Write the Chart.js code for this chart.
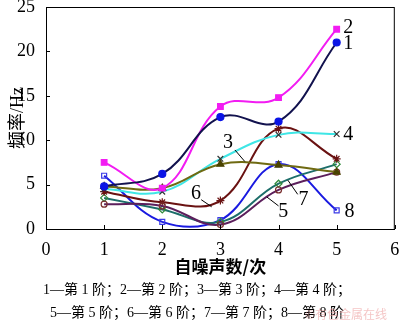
<!DOCTYPE html>
<html>
<head>
<meta charset="utf-8">
<script src="https://cdn.jsdelivr.net/npm/chart.js@4/dist/chart.umd.min.js"></script>
<style>
  html, body { margin: 0; padding: 0; background: #fff; }
</style>
</head>
<body>
<canvas id="chart" width="400" height="326"></canvas>
<script>
// Data
const noiseCounts = [1, 2, 3, 4, 5];
const order1 = [4.8, 6.2, 12.6, 12.1, 21.0];
const order2 = [7.5, 4.6, 13.8, 14.8, 22.5];
const order3 = [4.8, 4.6, 7.3, 7.2, 6.4];
const order4 = [4.5, 4.2, 7.9, 10.6, 10.7];
const order5 = [2.8, 2.6, 0.5, 4.4, 6.4];
const order6 = [4.2, 3.0, 3.2, 11.3, 7.9];
const order7 = [3.5, 2.2, 0.8, 5.1, 7.3];
const order8 = [6.0, 0.8, 1.0, 7.3, 2.1];
const xTicks = [0, 1, 2, 3, 4, 5, 6];
const yTicks = [0, 5, 10, 15, 20, 25];

const serif = '"Liberation Serif", "Noto Sans CJK SC", serif';
const caption1 = '1—第 1 阶；2—第 2 阶；3—第 3 阶；4—第 4 阶；';
const caption2 = '5—第 5 阶；6—第 6 阶；7—第 7 阶；8—第 8 阶';

// curve labels: text, position in data units, optional leader line
const curveLabels = [
    { text: '2', x: 5.2, y: 22.7 },
    { text: '1', x: 5.2, y: 20.9 },
    { text: '4', x: 5.2, y: 10.6 },
    { text: '3', x: 3.13, y: 9.7, from: [3.25, 8.9], to: [3.42, 7.6] },
    { text: '6', x: 2.58, y: 4.0, from: [2.67, 3.3], to: [2.85, 2.5] },
    { text: '7', x: 4.43, y: 3.3, from: [4.16, 5.5], to: [4.33, 3.9] },
    { text: '5', x: 4.08, y: 1.9, from: [3.8, 3.6], to: [4.0, 2.6] },
    { text: '8', x: 5.22, y: 1.9 }
];

function pts(values) {
    return values.map((v, i) => ({ x: noiseCounts[i], y: v }));
}

function series(values, line, marker, style, radius, filled) {
    return {
        data: pts(values),
        borderColor: line,
        borderWidth: 2,
        pointStyle: style,
        pointRadius: radius,
        pointBorderColor: marker,
        pointBackgroundColor: filled ? marker : 'rgba(0,0,0,0)',
        pointBorderWidth: 1.2,
        tension: 0.4,
        fill: false
    };
}

const extras = {
    id: 'extras',
    afterDraw(chart) {
        const { ctx, chartArea: a, scales: { x, y } } = chart;
        ctx.save();
        // frame
        ctx.strokeStyle = '#000';
        ctx.lineWidth = 1;
        ctx.strokeRect(a.left + 0.5, a.top + 0.5, a.right - a.left - 1, a.bottom - a.top);
        // inner tick marks
        ctx.beginPath();
        xTicks.forEach(t => {
            const px = Math.round(x.getPixelForValue(t)) + 0.5;
            ctx.moveTo(px, a.bottom);
            ctx.lineTo(px, a.bottom - 4);
        });
        yTicks.forEach(t => {
            const py = Math.round(y.getPixelForValue(t)) + 0.5;
            ctx.moveTo(a.left, py);
            ctx.lineTo(a.left + 4, py);
        });
        ctx.stroke();
        // curve labels
        ctx.fillStyle = '#000';
        ctx.font = '20px ' + serif;
        ctx.textAlign = 'center';
        ctx.textBaseline = 'middle';
        curveLabels.forEach(l => {
            ctx.fillText(l.text, x.getPixelForValue(l.x), y.getPixelForValue(l.y));
            if (l.from) {
                ctx.beginPath();
                ctx.moveTo(x.getPixelForValue(l.from[0]), y.getPixelForValue(l.from[1]));
                ctx.lineTo(x.getPixelForValue(l.to[0]), y.getPixelForValue(l.to[1]));
                ctx.stroke();
            }
        });
        // caption
        ctx.font = '14px ' + serif;
        ctx.textAlign = 'left';
        ctx.fillText(caption1, 43, 290);
        ctx.fillText(caption2, 50, 313);
        // watermark
        ctx.fillStyle = 'rgba(235, 150, 150, 0.55)';
        ctx.font = '12px "Noto Sans CJK SC"';
        ctx.fillText('©有色金属在线', 305, 314);
        ctx.restore();
    }
};

new Chart(document.getElementById('chart'), {
    type: 'line',
    data: {
        datasets: [
            series(order1, '#12124e', '#0a14e6', 'circle', 3.5, true),
            series(order2, '#f21cf2', '#f21cf2', 'rect', 4, true),
            series(order3, '#6f6a12', '#4a4300', 'triangle', 4, true),
            series(order4, '#3fe6e6', '#333333', 'crossRot', 4, false),
            series(order5, '#5c1f5c', '#7a3030', 'circle', 3, false),
            series(order6, '#6a1212', '#6a1212', 'star', 4, false),
            series(order7, '#1d6e6a', '#2f8a3a', 'rectRot', 3.5, false),
            series(order8, '#1a1ae0', '#3a3ae6', 'rect', 3.5, false)
        ]
    },
    options: {
        responsive: false,
        animation: false,
        layout: { padding: { top: 7, right: 5, left: 0, bottom: 0 } },
        plugins: { legend: { display: false }, tooltip: { enabled: false } },
        scales: {
            x: {
                type: 'linear',
                min: 0,
                max: 6,
                afterBuildTicks: s => { s.ticks = xTicks.map(v => ({ value: v })); },
                ticks: { color: '#000', font: { family: serif, size: 18 }, padding: 2 },
                grid: { display: false },
                border: { color: '#000' },
                title: {
                    display: true,
                    text: '自噪声数/次',
                    color: '#000',
                    font: { family: '"Noto Sans CJK SC"', size: 17, weight: 'bold' },
                    padding: { top: 0, bottom: 49 }
                },
                afterFit: s => { s.height = 97; s.paddingLeft = 0; s.paddingRight = 0; }
            },
            y: {
                min: 0,
                max: 25,
                afterBuildTicks: s => { s.ticks = yTicks.map(v => ({ value: v })); },
                ticks: { color: '#000', font: { family: serif, size: 18 }, padding: 3 },
                grid: { display: false },
                border: { color: '#000' },
                title: {
                    display: true,
                    text: '频率/Hz',
                    color: '#000',
                    font: { family: serif, size: 18 },
                    padding: { top: 7, bottom: 0 }
                },
                afterFit: s => { s.width = 46; s.paddingTop = 0; s.paddingBottom = 0; }
            }
        }
    },
    plugins: [extras]
});
</script>
</body>
</html>
